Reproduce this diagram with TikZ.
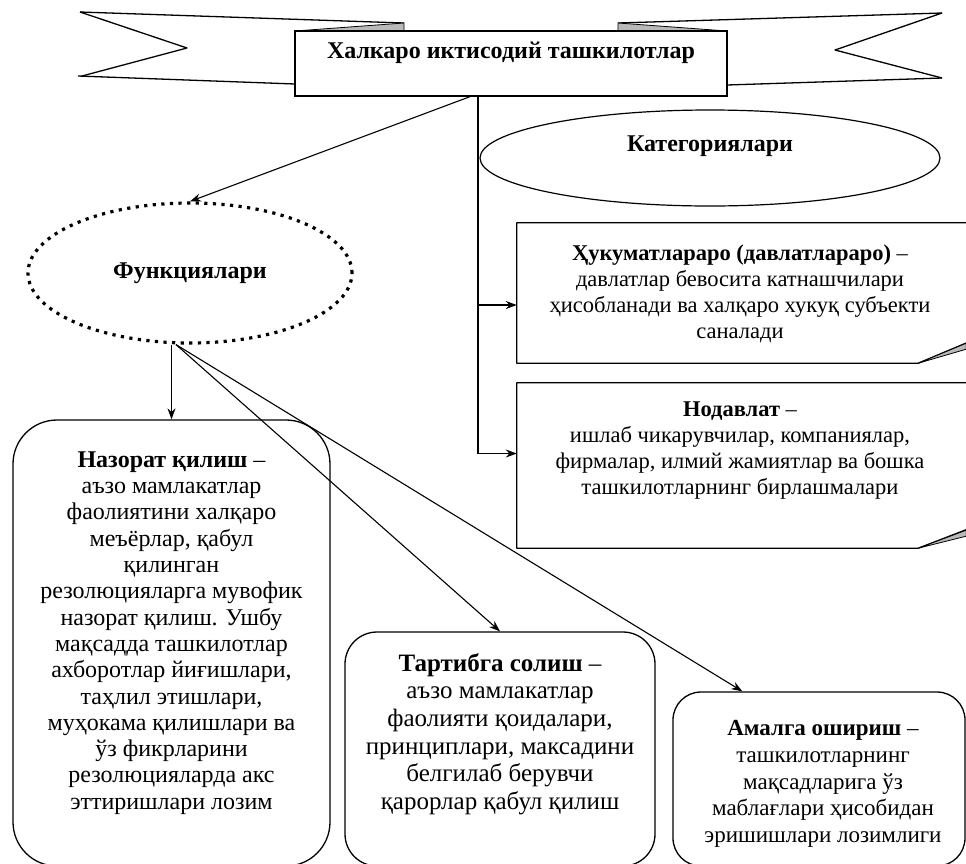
\documentclass[tikz,border=0pt]{standalone}
\usepackage{fontspec}
\setmainfont{Liberation Serif}
\usetikzlibrary{shapes.geometric, arrows.meta, positioning, calc}

\begin{document}
\begin{tikzpicture}[
        x=1pt, y=-1pt,
        font=\fontsize{22.5}{26.2}\selectfont,
        line/.style={line width=1.1pt},
        arr/.style={-{Stealth[length=11pt, width=8pt]}, line width=1.1pt},
        band/.style={line width=1.3pt, line join=round},
        fold/.style={fill=gray!55, draw=black, line width=0.8pt},
        head/.style={rectangle, draw, line width=1.3pt, fill=white, minimum width=432pt, minimum height=65pt, font=\fontsize{24}{28}\selectfont\bfseries, text height=16pt, text depth=27pt},
        oval/.style={ellipse, draw, line width=1.2pt, inner sep=0pt, font=\fontsize{24}{28}\selectfont\bfseries},
        dotoval/.style={ellipse, draw, line width=3.2pt, dash pattern=on 3.2pt off 5.4pt, inner sep=0pt, font=\fontsize{24}{28}\selectfont\bfseries},
        catbox/.style={rectangle, inner sep=0pt, minimum width=458pt},
        fbox/.style={rectangle, draw, rounded corners=32pt, line width=1.3pt, inner sep=0pt},
        txt/.style={align=center, inner sep=0pt}
    ]
        \useasboundingbox (0,0) rectangle (966,863);

        % Banner: tails and folds
        \draw[band] (80,12) -- (404,23);
        \draw[band] (618,23) -- (942,13);
        \draw[band] (80,12) -- (187,48) -- (82,76);
        \draw[band] (942,13) -- (835,50) -- (942,78);
        \draw[band] (78,76) -- (295,84);
        \draw[band] (942,78) -- (727,85);
        \draw[fold] (295,31) -- (404,23) -- (404,31) -- cycle;
        \draw[fold] (618,23) -- (727,31) -- (618,31) -- cycle;
        \node[head] (head) at (511,63.5) {Халкаро иктисодий ташкилотлар};

        % Categories
        \node[oval, minimum width=460pt, minimum height=96pt, text height=14pt, text depth=27pt] (cat) at (710,158) {Категориялари};
        \node[catbox, minimum height=140pt] (hukumat) at (746,293) {};
        \node[catbox, minimum height=165pt] (nodav) at (746,465.5) {};
        \draw[band] (hukumat.north east) -- (hukumat.north west) -- (hukumat.south west) -- ($(hukumat.south east)+(-57,0)$) -- ($(hukumat.south east)+(0,-24)$);
        \draw[fold] ($(hukumat.south east)+(-57,0)$) -- ($(hukumat.south east)+(-9,-20)$) -- ($(hukumat.south east)+(-9,-14)$) -- cycle;
        \draw[band] (nodav.north east) -- (nodav.north west) -- (nodav.south west) -- ($(nodav.south east)+(-57,0)$) -- ($(nodav.south east)+(0,-22)$);
        \draw[fold] ($(nodav.south east)+(-57,0)$) -- ($(nodav.south east)+(-9,-18)$) -- ($(nodav.south east)+(-9,-12)$) -- cycle;
        \node[txt] (hukumatT) at ([xshift=-6pt, yshift=-1pt]hukumat.center) {\textbf{Ҳукуматлараро (давлатлараро)} –\\давлатлар бевосита катнашчилари\\ҳисобланади ва халқаро хукуқ субъекти\\саналади};
        \node[txt] (nodavT) at ([xshift=-6pt, yshift=15pt]nodav.center) {\textbf{Нодавлат} –\\ишлаб чикарувчилар, компаниялар,\\фирмалар, илмий жамиятлар ва бошка\\ташкилотларнинг бирлашмалари};

        % Functions
        \node[dotoval, minimum width=324pt, minimum height=140pt] (funk) at (190,273) {Функциялари};
        \node[fbox, rounded corners=44pt, minimum width=317pt, minimum height=446pt] (nazorat) at (171.5,643) {};
        \node[fbox, minimum width=310pt, minimum height=234pt] (tartib) at (500,749) {};
        \node[fbox, rounded corners=28pt, minimum width=292pt, minimum height=174pt] (amalga) at (819,779) {};
        \node[txt, font=\fontsize{24}{26.3}\selectfont] (nazoratT) at ([yshift=10pt]nazorat.center) {\textbf{Назорат қилиш} –\\аъзо мамлакатлар\\фаолиятини халқаро\\меъёрлар, қабул\\қилинган\\резолюцияларга мувофик\\назорат қилиш. Ушбу\\мақсадда ташкилотлар\\ахборотлар йиғишлари,\\таҳлил этишлари,\\муҳокама қилишлари ва\\ўз фикрларини\\резолюцияларда акс\\эттиришлари лозим};
        \node[txt, font=\fontsize{25}{27.7}\selectfont] (tartibT) at ([yshift=15pt]tartib.center) {\textbf{Тартибга солиш} –\\аъзо мамлакатлар\\фаолияти қоидалари,\\принциплари, максадини\\белгилаб берувчи\\қарорлар қабул қилиш};
        \node[txt, font=\fontsize{23}{26.6}\selectfont] (amalgaT) at ([xshift=4pt, yshift=-5pt]amalga.center) {\textbf{Амалга ошириш} –\\ташкилотларнинг\\мақсадларига ўз\\маблағлари ҳисобидан\\эришишлари лозимлиги};

        % Connectors
        \coordinate (trunk) at ([xshift=-33pt]head.south);
        \coordinate (hukIn) at ([yshift=-12pt]hukumat.west);
        \coordinate (nodIn) at ([yshift=12pt]nodav.west);
        \coordinate (fork) at ([xshift=-14pt]funk.south);
        \draw[arr] (trunk) |- (nodIn);
        \draw[arr] (trunk |- hukIn) -- (hukIn);
        \draw[arr] ([xshift=-41pt]head.south) -- (funk.north);
        \draw[arr] (nazorat.north |- funk.south) -- (nazorat.north);
        \draw[arr] (fork) -- (tartib.north);
        \draw[arr] (fork) -- ([xshift=70pt]amalga.north west);
    \end{tikzpicture}
\end{document}
